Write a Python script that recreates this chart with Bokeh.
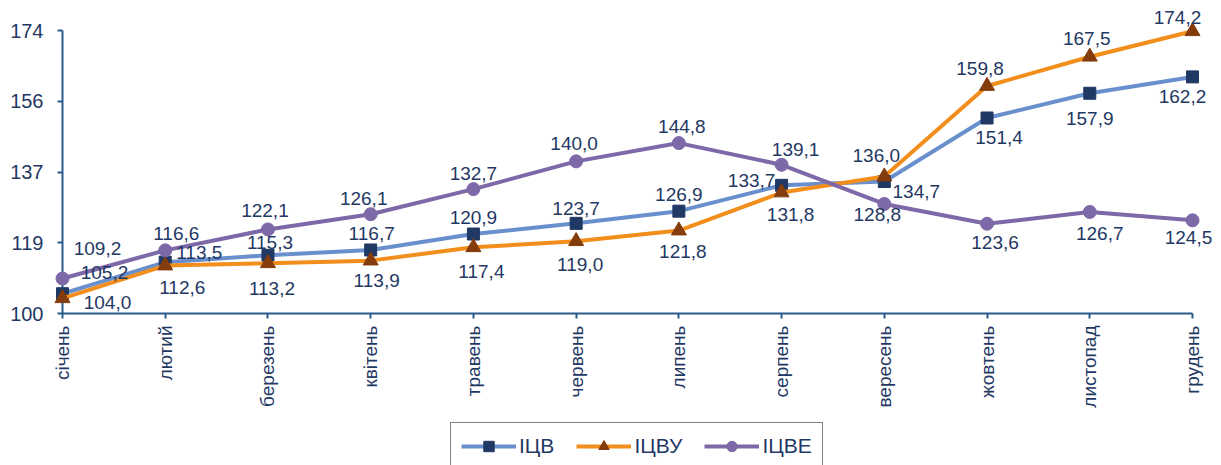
import math
from bokeh.plotting import figure
from bokeh.models import (Range1d, FixedTicker, PrintfTickFormatter, LabelSet,
                          ColumnDataSource, Legend, LegendItem)
from bokeh.core.properties import value
from bokeh.embed import file_html
from bokeh.resources import INLINE

months = ["січень", "лютий", "березень", "квітень", "травень", "червень",
          "липень", "серпень", "вересень", "жовтень", "листопад", "грудень"]
icv = [105.2, 113.5, 115.3, 116.7, 120.9, 123.7, 126.9, 133.7, 134.7, 151.4, 157.9, 162.2]
icvu = [104.0, 112.6, 113.2, 113.9, 117.4, 119.0, 121.8, 131.8, 136.0, 159.8, 167.5, 174.2]
icve = [109.2, 116.6, 122.1, 126.1, 132.7, 140.0, 144.8, 139.1, 128.8, 123.6, 126.7, 124.5]
y_ticks = [100, 118.6, 137.2, 155.8, 174.4]

# data label offsets (screen px): dx, dy (up positive)
icv_dx = [42, 34, 2, 1, 0, 0, 0, -30, 32, 12, 0, -10]
icv_dy = [21, 10, 13, 16, 17, 15, 17, 5, -10, -20, -25, -20]
icvu_dx = [45, 17, 4, 6, 8, 4, 4, 9, -8, -7, -3, -15]
icvu_dy = [-4, -22, -25, -20, -24, -23, -21, -22, 21, 18, 18, 14]
icve_dx = [35, 11, -3, -7, 0, -2, 3, 14, -7, 8, 10, -4]
icve_dy = [30, 17, 19, 16, 16, 18, 17, 15, -11, -19, -22, -17]

TXT = "#1F3864"
AX = "#2A5A8A"
FONT = "Liberation Sans"

# pixel layout of the plotting area inside the canvas
W, H = 1221, 465
L, R, T, B = 62, 1192, 30, 313
n = len(months)
xmin, xmax = 0, n - 1
ymin, ymax = y_ticks[0], y_ticks[-1]
xpp = (R - L) / (xmax - xmin)
ypp = (B - T) / (ymax - ymin)
x_range = Range1d(xmin - L / xpp, xmax + (W - R) / xpp)
y_range = Range1d(ymin - (H - B) / ypp, ymax + T / ypp)

p = figure(width=W, height=H, output_backend="svg", toolbar_location=None,
           x_range=x_range, y_range=y_range, min_border=0,
           min_border_left=0, min_border_right=0, min_border_top=0,
           min_border_bottom=0)
p.outline_line_color = None
p.xgrid.visible = False
p.ygrid.visible = False
p.background_fill_color = "white"

xs = list(range(n))

series = [
    ("ІЦВ", icv, "#6990CC", "square", "#1F3864", 12, icv_dx, icv_dy),
    ("ІЦВУ", icvu, "#F28E1C", "triangle", "#843C0C", 15, icvu_dx, icvu_dy),
    ("ІЦВЕ", icve, "#7D68A8", "circle", "#7D68A8", 13, icve_dx, icve_dy),
]

items = []
labelsets = []
for name, vals, lc, mk, mc, ms, dx, dy in series:
    src = ColumnDataSource(dict(x=xs, y=vals,
                                t=[f"{v:.1f}".replace(".", ",") for v in vals],
                                dx=dx, dy=dy))
    lr = p.line("x", "y", source=src, line_color=lc, line_width=4)
    sr = p.scatter("x", "y", source=src, marker=mk, size=ms, fill_color=mc,
                   line_color=mc)
    lr.level = "overlay"
    sr.level = "overlay"
    items.append(LegendItem(label=name, renderers=[lr, sr]))
    labelsets.append(LabelSet(x="x", y="y", text="t", source=src,
                              x_offset="dx", y_offset="dy",
                              text_align="center", text_baseline="middle",
                              text_font=value(FONT), text_font_size="19px",
                              text_color=TXT, level="overlay"))
for ls in labelsets:
    p.add_layout(ls)

# axes (drawn at fixed data locations inside the frame)
xa = p.xaxis[0]
xa.fixed_location = ymin
xa.bounds = (xmin, xmax)
xa.ticker = FixedTicker(ticks=xs)
xa.major_label_overrides = {i: m for i, m in enumerate(months)}
xa.major_label_orientation = math.pi / 2
xa.axis_line_color = AX
xa.axis_line_width = 2
xa.major_tick_line_color = AX
xa.major_tick_line_width = 2
xa.major_tick_in = 0
xa.major_tick_out = 5
xa.minor_tick_line_color = None
xa.major_label_standoff = 7
xa.major_label_text_font = FONT
xa.major_label_text_font_size = "19px"
xa.major_label_text_color = TXT

ya = p.yaxis[0]
ya.fixed_location = xmin
ya.bounds = (ymin, ymax)
ya.ticker = FixedTicker(ticks=y_ticks)
ya.formatter = PrintfTickFormatter(format="%.0f")
ya.axis_line_color = AX
ya.axis_line_width = 2
ya.major_tick_line_color = AX
ya.major_tick_line_width = 2
ya.major_tick_in = 0
ya.major_tick_out = 5
ya.minor_tick_line_color = None
ya.major_label_standoff = 14
ya.major_label_text_font = FONT
ya.major_label_text_font_size = "20px"
ya.major_label_text_color = TXT

legend = Legend(items=items, orientation="horizontal", location=(450, -5),
                padding=10, margin=0, spacing=22, label_standoff=3,
                glyph_width=55, glyph_height=26,
                label_text_font=FONT, label_text_font_size="21px",
                label_text_color=TXT, border_line_color="black",
                border_line_width=1.5, background_fill_color="white",
                level="overlay")
p.add_layout(legend, "center")

open("out.html", "w").write(file_html(p, INLINE))
